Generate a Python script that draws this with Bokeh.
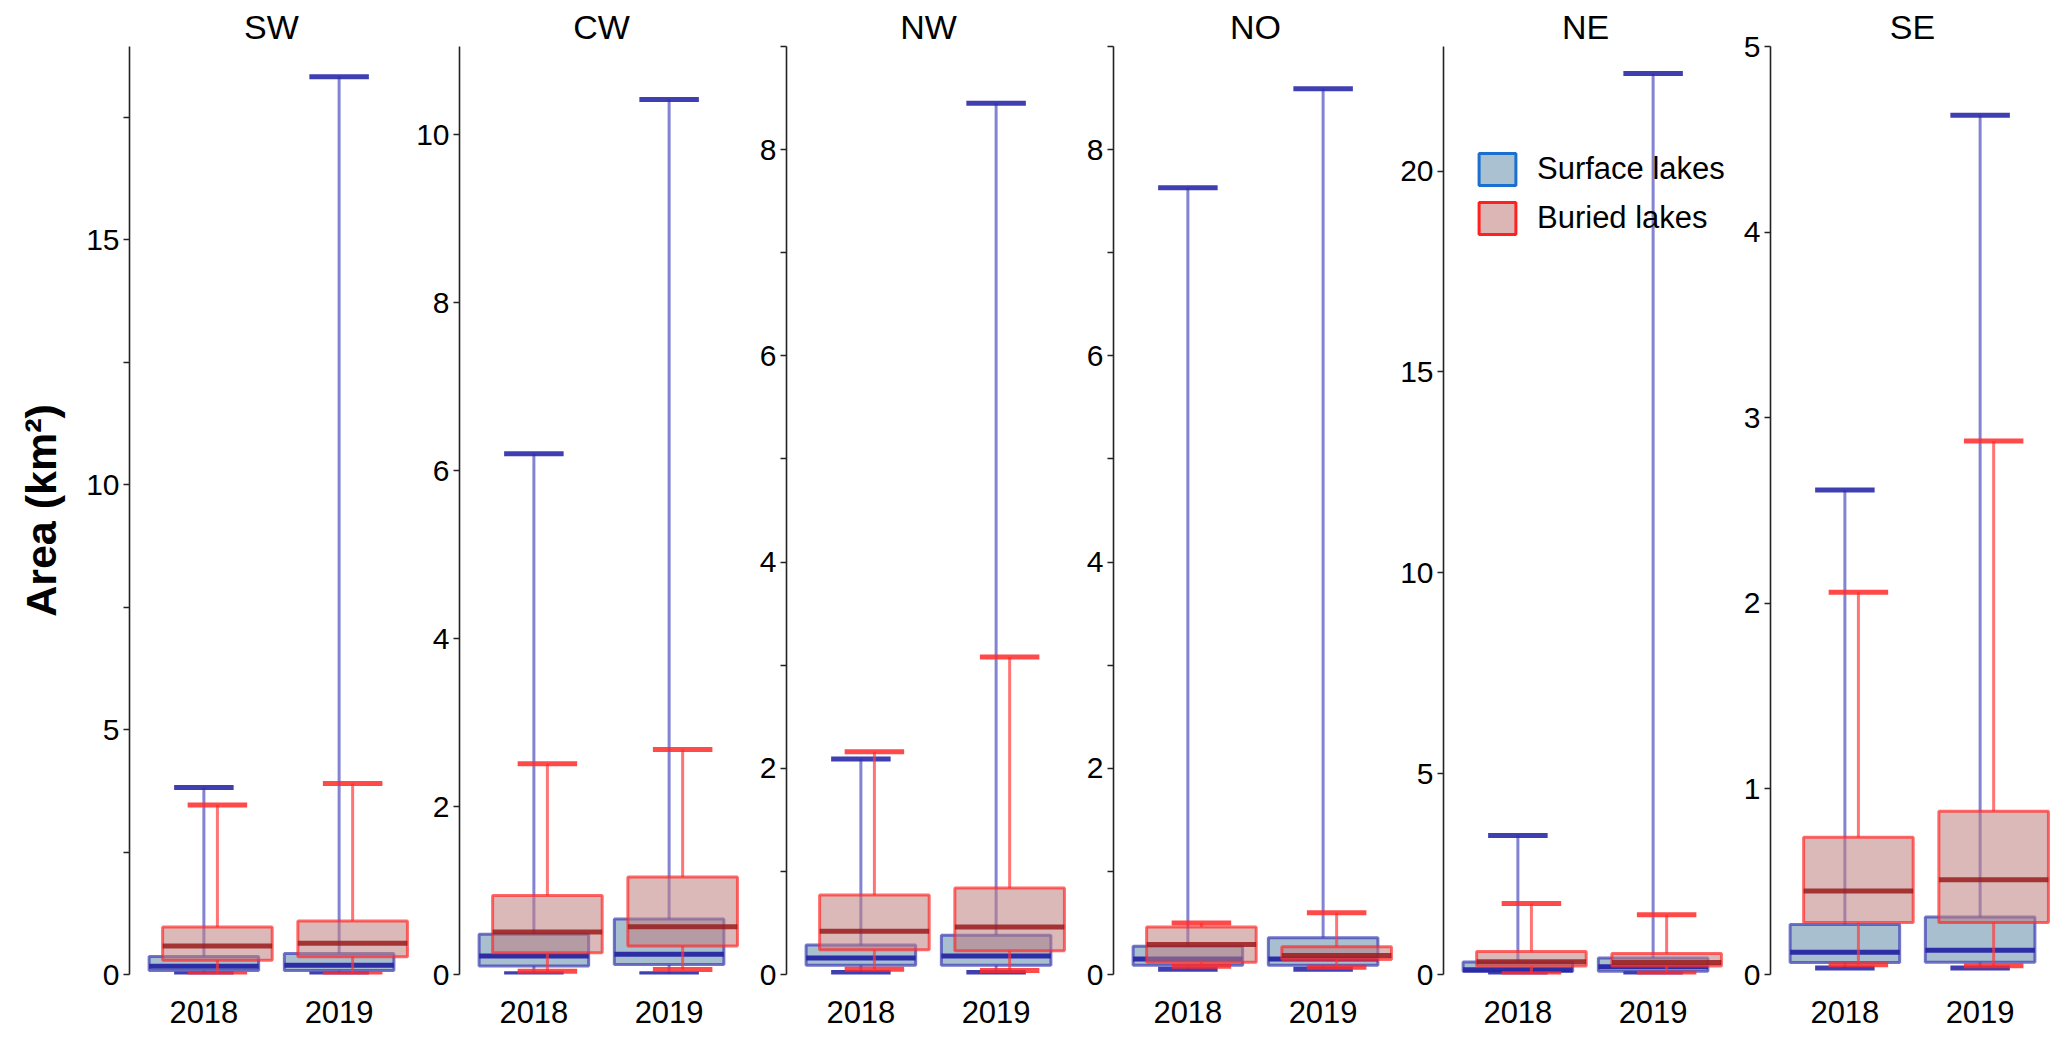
from bokeh.plotting import figure
from bokeh.layouts import row
from bokeh.models import Range1d, FixedTicker, Legend, LegendItem
from bokeh.embed import file_html
from bokeh.resources import INLINE

# ---------------- data ----------------
regions = ["SW", "CW", "NW", "NO", "NE", "SE"]
years = ["2018", "2019"]

# each entry: [2018, 2019] for the region in `regions` order
surface_upper = [[3.82, 18.33], [6.20, 10.42], [2.09, 8.45], [7.63, 8.59], [3.46, 22.43], [2.61, 4.63]]
surface_q3 = [[0.37, 0.43], [0.48, 0.66], [0.285, 0.38], [0.275, 0.357], [0.31, 0.41], [0.27, 0.31]]
surface_median = [[0.17, 0.19], [0.22, 0.24], [0.16, 0.18], [0.15, 0.15], [0.12, 0.19], [0.12, 0.13]]
surface_q1 = [[0.08, 0.08], [0.10, 0.12], [0.09, 0.09], [0.09, 0.09], [0.075, 0.08], [0.065, 0.066]]
surface_lower = [[0.01, 0.01], [0.01, 0.01], [0.02, 0.02], [0.05, 0.05], [0.02, 0.03], [0.035, 0.035]]

buried_upper = [[3.46, 3.90], [2.51, 2.68], [2.16, 3.08], [0.50, 0.60], [1.77, 1.49], [2.06, 2.875]]
buried_q3 = [[0.97, 1.09], [0.94, 1.16], [0.77, 0.84], [0.46, 0.27], [0.57, 0.52], [0.74, 0.88]]
buried_median = [[0.58, 0.64], [0.505, 0.57], [0.42, 0.46], [0.29, 0.185], [0.32, 0.30], [0.45, 0.51]]
buried_q1 = [[0.29, 0.36], [0.26, 0.34], [0.24, 0.23], [0.12, 0.146], [0.21, 0.21], [0.28, 0.28]]
buried_lower = [[0.01, 0.01], [0.04, 0.06], [0.05, 0.04], [0.08, 0.07], [0.02, 0.03], [0.052, 0.047]]

# axis ranges and ticks per panel
y_max = [18.95, 11.05, 9.0, 9.0, 23.1, 5.0]
tick_step = [2.5, 2.0, 1.0, 1.0, 5.0, 1.0]
label_step = [5.0, 2.0, 2.0, 2.0, 5.0, 1.0]

y_label = "Area (km²)"
legend_labels = ["Surface lakes", "Buried lakes"]

# ---------------- style ----------------
FONT = "Liberation Sans"
BOX_W = 0.81
CAP_W = 0.44
RED_OFF = 0.10
FRAME_W = 284
FRAME_H = 928

S_FILL, S_EDGE, S_MED, S_WHISK, S_CAP = "#a3bccd", "#3a3ab2", "#2626a3", "#5a5ac4", "#2a2aa8"
B_FILL, B_EDGE, B_MED, B_WHISK, B_CAP = "#c07f7f", "#ff2a2a", "#9a1c1c", "#ff3a3a", "#ff2a2a"
NAN = float("nan")


def make_panel(i):
    first = i == 0
    ymax = y_max[i]
    p = figure(
        frame_width=FRAME_W, frame_height=FRAME_H,
        x_range=Range1d(0.45, 2.55), y_range=Range1d(0, ymax),
        output_backend="svg", toolbar_location=None,
        min_border_left=129 if first else 43, min_border_right=0,
        min_border_top=46, min_border_bottom=56,
        title=regions[i],
    )
    p.title.align = "center"
    p.title.text_font = FONT
    p.title.text_font_size = "34px"
    p.title.text_font_style = "normal"
    p.title.text_color = "black"
    p.title.standoff = 2
    p.xgrid.visible = False
    p.ygrid.visible = False
    p.outline_line_color = None
    p.background_fill_color = None
    p.border_fill_color = None

    # x axis
    xs = [1, 2]
    p.xaxis.ticker = FixedTicker(ticks=xs)
    p.xaxis.major_label_overrides = {x: y for x, y in zip(xs, years)}
    p.xaxis.axis_line_color = None
    p.xaxis.major_tick_line_color = None
    p.xaxis.minor_tick_line_color = None
    p.xaxis.major_label_text_font = FONT
    p.xaxis.major_label_text_font_size = "31px"
    p.xaxis.major_label_text_color = "black"
    p.xaxis.major_label_standoff = 20

    # y axis
    step, lstep = tick_step[i], label_step[i]
    n = int(round(ymax / step + 1e-9))
    ticks = [k * step for k in range(n + 1) if k * step <= ymax + 1e-9]
    overrides = {}
    for t in ticks:
        if abs(t / lstep - round(t / lstep)) > 1e-6:
            overrides[t] = ""
    p.yaxis.ticker = FixedTicker(ticks=ticks)
    p.yaxis.major_label_overrides = overrides
    p.yaxis.axis_line_color = "#222222"
    p.yaxis.axis_line_width = 1.6
    p.yaxis.major_tick_line_color = "#222222"
    p.yaxis.major_tick_line_width = 1.4
    p.yaxis.major_tick_out = 6
    p.yaxis.major_tick_in = 0
    p.yaxis.minor_tick_line_color = None
    p.yaxis.major_label_text_font = FONT
    p.yaxis.major_label_text_font_size = "30px"
    p.yaxis.major_label_text_color = "black"
    p.yaxis.major_label_standoff = 4
    if first:
        p.yaxis.axis_label = y_label
        p.yaxis.axis_label_text_font = FONT
        p.yaxis.axis_label_text_font_size = "43px"
        p.yaxis.axis_label_text_font_style = "bold"
        p.yaxis.axis_label_text_color = "black"
        p.yaxis.axis_label_standoff = 18

    series = [
        (0.0, surface_upper[i], surface_q3[i], surface_median[i], surface_q1[i], surface_lower[i],
         S_FILL, 0.95, S_EDGE, 0.7, S_MED, 0.95, S_WHISK, 0.75, S_CAP, 0.9),
        (RED_OFF, buried_upper[i], buried_q3[i], buried_median[i], buried_q1[i], buried_lower[i],
         B_FILL, 0.55, B_EDGE, 0.7, B_MED, 0.85, B_WHISK, 0.7, B_CAP, 0.85),
    ]
    for (off, up, q3, med, q1, lo, fc, fa, ec, ea, mc, ma, wc, wa, cc, ca) in series:
        cx = [x + off for x in xs]
        # whiskers
        p.segment(x0=cx, x1=cx, y0=q3, y1=up, line_color=wc, line_alpha=wa, line_width=3)
        p.segment(x0=cx, x1=cx, y0=lo, y1=q1, line_color=wc, line_alpha=wa, line_width=3)
        # caps
        p.segment(x0=[c - CAP_W / 2 for c in cx], x1=[c + CAP_W / 2 for c in cx], y0=up, y1=up,
                  line_color=cc, line_alpha=ca, line_width=5)
        p.segment(x0=[c - CAP_W / 2 for c in cx], x1=[c + CAP_W / 2 for c in cx], y0=lo, y1=lo,
                  line_color=cc, line_alpha=ca, line_width=5)
        # box
        p.vbar(x=cx, width=BOX_W, top=q3, bottom=q1, fill_color=fc, fill_alpha=fa,
               line_color=ec, line_alpha=ea, line_width=3)
        # median
        p.segment(x0=[c - BOX_W / 2 for c in cx], x1=[c + BOX_W / 2 for c in cx], y0=med, y1=med,
                  line_color=mc, line_alpha=ma, line_width=5)

    if regions[i] == "NE":
        # legend proxies (not drawn in the plot area)
        r1 = p.vbar(x=[NAN], top=[NAN], bottom=[NAN], width=0.5, fill_color="#a9c1d1",
                    line_color="#1a6fd0", line_width=3)
        r2 = p.vbar(x=[NAN], top=[NAN], bottom=[NAN], width=0.5, fill_color="#dcb5b5",
                    line_color="#ff2020", line_width=3)
        leg = Legend(items=[LegendItem(label=legend_labels[0], renderers=[r1]),
                            LegendItem(label=legend_labels[1], renderers=[r2])],
                     location=(31, FRAME_H - 103 - 89), glyph_width=46, glyph_height=40,
                     label_text_font=FONT, label_text_font_size="31px", label_standoff=17,
                     label_text_color="black",
                     spacing=9, padding=0, margin=0, background_fill_alpha=0,
                     border_line_color=None, label_height=40)
        p.add_layout(leg)
    return p


panels = [make_panel(i) for i in range(len(regions))]
layout = row(*panels, spacing=0)
open("out.html", "w").write(file_html(layout, INLINE))
